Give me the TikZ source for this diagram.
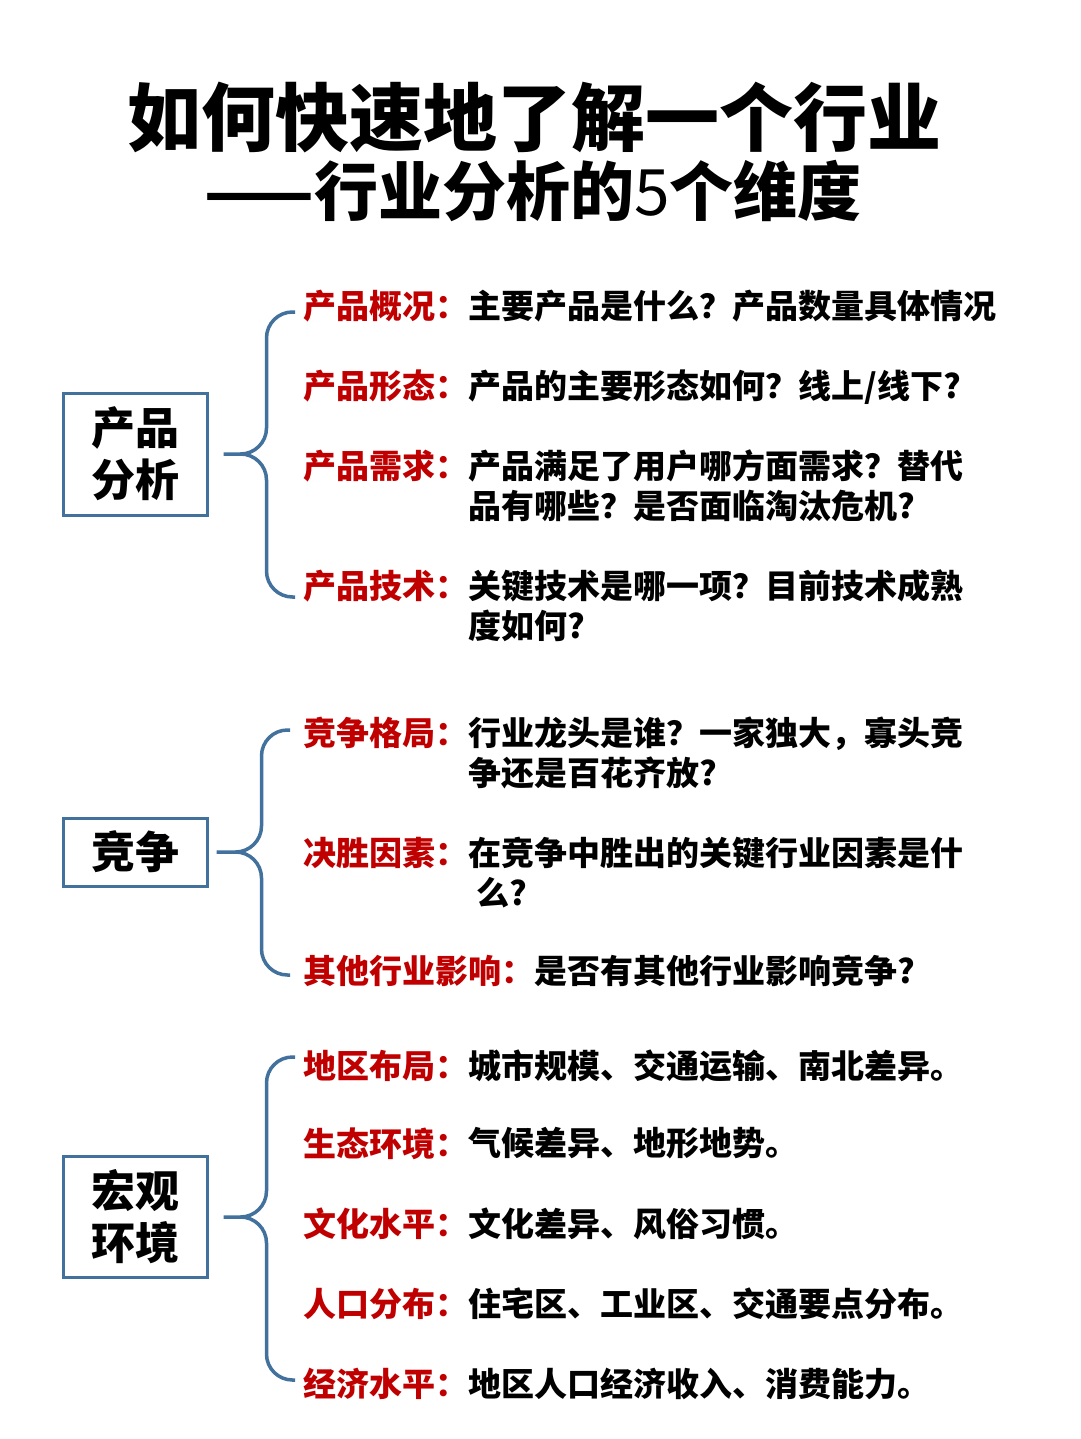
\documentclass[tikz,border=0pt]{standalone}
\usepackage{fontspec}
\setmainfont{Noto Sans CJK SC}
\usetikzlibrary{positioning, calc}

\definecolor{frameblue}{RGB}{65,113,156}
\definecolor{keyred}{RGB}{192,0,0}

\tikzset{
  catbox/.style={draw=frameblue, line width=3pt, minimum width=144pt, inner sep=0pt,
      align=center, font=\fontsize{44}{52}\selectfont\bfseries},
  keylabel/.style={anchor=base west, inner sep=0pt, text=keyred,
      font=\fontsize{33}{40}\selectfont\bfseries},
  keytext/.style={anchor=north west, inner sep=0pt, align=left,
      font=\fontsize{33}{40}\selectfont\bfseries},
  bracket/.style={draw=frameblue, line width=3.5pt, rounded corners=26pt}
}

\begin{document}
\begin{tikzpicture}[x=1pt, y=-1pt]
  \useasboundingbox[fill=white] (0,0) rectangle (1080,1439);

  % title
  \node[anchor=base, inner sep=0pt, font=\fontsize{74}{80}\selectfont\bfseries]
      (title) at (534,146) {如何快速地了解一个行业};
  \node[anchor=base, inner sep=0pt, font=\fontsize{64}{70}\selectfont\bfseries]
      (subtitle) at (533,216) {——行业分析的{\mdseries 5}个维度};

  % categories
  \node[catbox, minimum height=122pt] (prod)  at (135,454)  {产品\\分析};
  \node[catbox, minimum height=68pt]  (comp)  at (135,852)  {竞争};
  \node[catbox, minimum height=121pt] (macro) at (135,1217) {宏观\\环境};

  % product items
  \node[keylabel] (k11) at (303,318) {产品概况：};
  \node[keytext] (t11) at (k11.north east) {主要产品是什么？产品数量具体情况};
  \node[keylabel] (k12) at (303,398) {产品形态：};
  \node[keytext] (t12) at (k12.north east) {产品的主要形态如何？线上/线下?};
  \node[keylabel] (k13) at (303,478) {产品需求：};
  \node[keytext] (t13) at (k13.north east) {产品满足了用户哪方面需求？替代\\品有哪些？是否面临淘汰危机?};
  \node[keylabel] (k14) at (303,598) {产品技术：};
  \node[keytext] (t14) at (k14.north east) {关键技术是哪一项？目前技术成熟\\度如何?};

  % competition items
  \node[keylabel] (k21) at (303,745) {竞争格局：};
  \node[keytext] (t21) at (k21.north east) {行业龙头是谁？一家独大，寡头竞\\争还是百花齐放?};
  \node[keylabel] (k22) at (303,865) {决胜因素：};
  \node[keytext] (t22) at (k22.north east) {在竞争中胜出的关键行业因素是什\\\hspace{8pt}么?};
  \node[keylabel] (k23) at (303,983) {其他行业影响：};
  \node[keytext] (t23) at (k23.north east) {是否有其他行业影响竞争?};

  % macro items
  \node[keylabel] (k31) at (303,1078) {地区布局：};
  \node[keytext] (t31) at (k31.north east) {城市规模、交通运输、南北差异。};
  \node[keylabel] (k32) at (303,1156) {生态环境：};
  \node[keytext] (t32) at (k32.north east) {气候差异、地形地势。};
  \node[keylabel] (k33) at (303,1236) {文化水平：};
  \node[keytext] (t33) at (k33.north east) {文化差异、风俗习惯。};
  \node[keylabel] (k34) at (303,1316) {人口分布：};
  \node[keytext] (t34) at (k34.north east) {住宅区、工业区、交通要点分布。};
  \node[keylabel] (k35) at (303,1396) {经济水平：};
  \node[keytext] (t35) at (k35.north east) {地区人口经济收入、消费能力。};

  % brackets
  \coordinate (b1tip) at ($(prod.east)+(15,0)$);
  \coordinate (b1top) at (295,312);
  \coordinate (b1bot) at (295,597);
  \draw[bracket] (b1top) -| ($(b1tip)+(43,0)$) -- (b1tip)
                 (b1tip) -- ($(b1tip)+(43,0)$) |- (b1bot);

  \coordinate (b2tip) at ($(comp.east)+(8,0)$);
  \coordinate (b2top) at (290,730);
  \coordinate (b2bot) at (290,975);
  \draw[bracket] (b2top) -| ($(b2tip)+(45,0)$) -- (b2tip)
                 (b2tip) -- ($(b2tip)+(45,0)$) |- (b2bot);

  \coordinate (b3tip) at ($(macro.east)+(15,0)$);
  \coordinate (b3top) at (295,1057);
  \coordinate (b3bot) at (295,1380);
  \draw[bracket] (b3top) -| ($(b3tip)+(43,0)$) -- (b3tip)
                 (b3tip) -- ($(b3tip)+(43,0)$) |- (b3bot);
\end{tikzpicture}
\end{document}
